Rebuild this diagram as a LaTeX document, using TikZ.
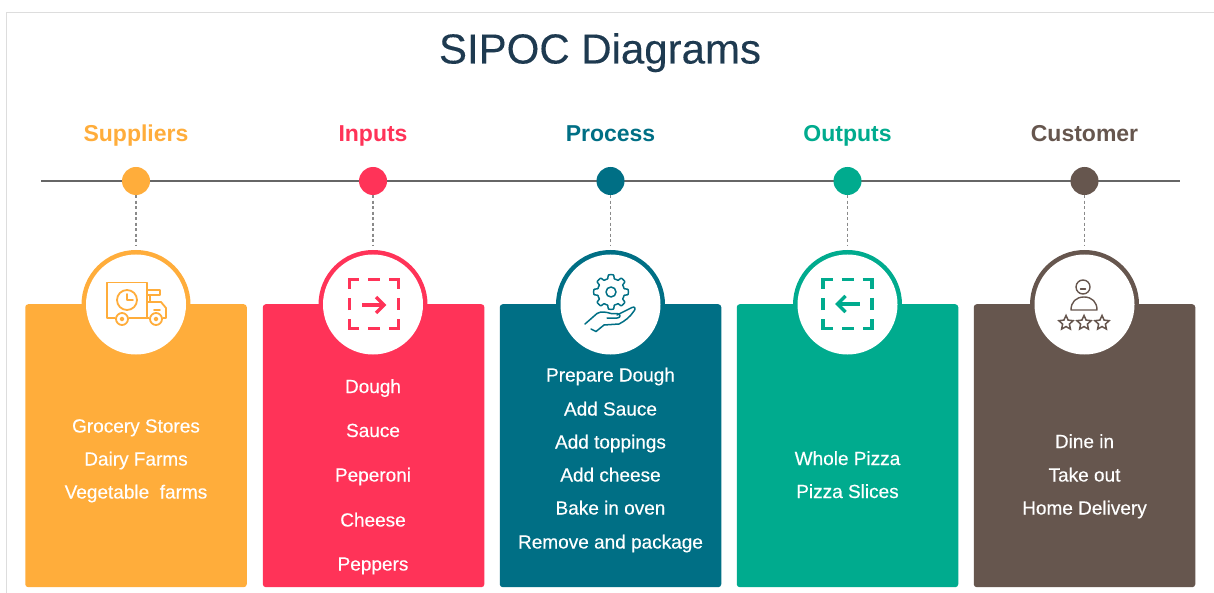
\documentclass[tikz,border=0pt]{standalone}
\usepackage{fontspec}
\setmainfont{Liberation Sans}
\newfontfamily\bodyfont[FakeBold=0.35]{Liberation Sans}
\newfontfamily\titlefont[FakeBold=0.2]{Liberation Sans}
\usetikzlibrary{shapes.geometric,arrows.meta}
\definecolor{cOrange}{HTML}{FFAD3B}
\definecolor{cRed}{HTML}{FF3358}
\definecolor{cTeal}{HTML}{006F85}
\definecolor{cGreen}{HTML}{00AB8E}
\definecolor{cBrown}{HTML}{66564E}
\definecolor{cTitle}{HTML}{1E3A50}
\definecolor{cLine}{HTML}{666666}
\definecolor{cDrop}{HTML}{8A8A8A}
\definecolor{cFrame}{HTML}{DDDDDD}
\tikzset{
  card/.style={fill=#1,draw=none,rounded corners=3pt,minimum width=221.5pt,minimum height=283pt,inner sep=0pt,anchor=north},
  dot/.style={circle,fill=#1,draw=none,minimum size=28pt,inner sep=0pt},
  ring/.style={circle,fill=#1,draw=none,minimum size=109pt,inner sep=0pt},
  hole/.style={circle,fill=white,draw=none,minimum size=100pt,inner sep=0pt},
  head/.style={font=\fontsize{23}{25}\selectfont\bfseries,text=#1,anchor=base,inner sep=0pt},
  body/.style={font=\bodyfont\fontsize{19}{22}\selectfont,text=white,anchor=base,inner sep=0pt},
  spine/.style={draw=cLine,line width=1.6pt},
  drop/.style={draw=cDrop,line width=1.2pt,dash pattern=on 3pt off 2.5pt},
  icon/.style={draw=#1,line width=1.8pt,line join=round,line cap=round},
  dashbox/.style={draw=#1,line width=3.4pt},
  starmark/.style={star,star points=5,star point ratio=2.1,draw=cBrown,line width=1.5pt,minimum size=15pt,inner sep=0pt},
}
\newcommand{\dashsquare}[1]{%
  \draw[dashbox=#1] (-24.5,-15) -- (-24.5,-24.5) -- (-15,-24.5);
  \draw[dashbox=#1] (-6,-24.5) -- (6,-24.5);
  \draw[dashbox=#1] (15,-24.5) -- (24.5,-24.5) -- (24.5,-15);
  \draw[dashbox=#1] (24.5,-6) -- (24.5,6);
  \draw[dashbox=#1] (24.5,15) -- (24.5,24.5) -- (15,24.5);
  \draw[dashbox=#1] (6,24.5) -- (-6,24.5);
  \draw[dashbox=#1] (-15,24.5) -- (-24.5,24.5) -- (-24.5,15);
  \draw[dashbox=#1] (-24.5,6) -- (-24.5,-6);
}
\begin{document}
\begin{tikzpicture}[x=1pt,y=-1pt]
\useasboundingbox (0,0) rectangle (1214,593);
\fill[white] (0,0) rectangle (1214,593);
% page frame
\coordinate (fa) at (6.5,593);
\coordinate (fb) at (6.5,12.5);
\coordinate (fc) at (1214,12.5);
\draw[cFrame,line width=1pt] (fa) -- (fb) -- (fc);
% title
\node[font=\titlefont\fontsize{42}{45}\selectfont,text=cTitle,anchor=base,inner sep=0pt] (title) at (600,63.5) {SIPOC Diagrams};
% spine
\coordinate (spineL) at (41,181);
\coordinate (spineR) at (1180,181);
\draw[spine] (spineL) -- (spineR);
% columns
\foreach \n/\x/\cx/\c/\t in {s/136/136/cOrange/Suppliers,i/373/373.6/cRed/Inputs,p/610.5/610.5/cTeal/Process,o/847.5/847.5/cGreen/Outputs,k/1084.5/1084.5/cBrown/Customer}{
  \node[ring=\c] (ring\n) at (\x,304.5) {};
  \node[card=\c] (card\n) at (\cx,304) {};
  \node[hole] (hole\n) at (\x,304.5) {};
  \node[dot=\c] (dot\n) at (\x,181) {};
  \node[head=\c] (head\n) at (\x,141.5) {\t};
  \coordinate (end\n) at (\x,245);
  \draw[drop] (dot\n) -- (end\n);
}
% suppliers text
\node[body] (s1) at (136,432.5) {Grocery Stores};
\node[body] (s2) at (136,465.5) {Dairy Farms};
\node[body] (s3) at (136,498.5) {Vegetable\ \ farms};
% inputs text
\node[body] (i1) at (373,393) {Dough};
\node[body] (i2) at (373,437) {Sauce};
\node[body] (i3) at (373,481.5) {Peperoni};
\node[body] (i4) at (373,526.5) {Cheese};
\node[body] (i5) at (373,570.5) {Peppers};
% process text
\node[body] (p1) at (610.5,381.5) {Prepare Dough};
\node[body] (p2) at (610.5,415.5) {Add Sauce};
\node[body] (p3) at (610.5,448.5) {Add toppings};
\node[body] (p4) at (610.5,481.5) {Add cheese};
\node[body] (p5) at (610.5,514.5) {Bake in oven};
\node[body] (p6) at (610.5,548.5) {Remove and package};
% outputs text
\node[body] (o1) at (847.5,465) {Whole Pizza};
\node[body] (o2) at (847.5,498) {Pizza Slices};
% customer text
\node[body] (k1) at (1084.5,448) {Dine in};
\node[body] (k2) at (1084.5,481.5) {Take out};
\node[body] (k3) at (1084.5,514.5) {Home Delivery};
% truck icon
\draw[icon=cOrange] (115,318) -- (107,318) -- (107,282.5) -- (147,282.5) -- (147,318) -- (149,318);
\draw[icon=cOrange] (129,318) -- (147,318);
\draw[icon=cOrange] (127,300) circle[radius=10pt];
\draw[icon=cOrange] (127,294) -- (127,300) -- (133,300);
\draw[icon=cOrange] (147,290) -- (160,290) -- (160,295) -- (147,295);
\draw[icon=cOrange] (147,302) -- (161,302) -- (166,308) -- (166,318) -- (163,318);
\draw[icon=cOrange] (150,295) -- (150,302);
\draw[icon=cOrange] (154,310) -- (160,310);
\draw[icon=cOrange] (122,319) circle[radius=6pt];
\draw[icon=cOrange] (122,319) circle[radius=1.6pt];
\draw[icon=cOrange] (156,319) circle[radius=6pt];
\draw[icon=cOrange] (156,319) circle[radius=1.6pt];
% inputs icon
\begin{scope}[shift={(374,304)}]
  \dashsquare{cRed}
  \draw[draw=cRed,line width=3.4pt] (-12,1) -- (9,1);
  \draw[draw=cRed,line width=3.4pt] (2,-7) -- (10,1) -- (2,9);
\end{scope}
% gear and hand icon
\begin{scope}[shift={(611,292)}]
  \draw[icon=cTeal,line width=1.5pt] plot[samples=193,domain=0:360,variable=\a] (\a:{13.5+3.8*max(0,min(1,0.5+1.4*cos(8*\a)))}) -- cycle;
  \draw[icon=cTeal,line width=1.5pt] (0,0) circle[radius=5pt];
\end{scope}
\draw[icon=cTeal,line width=1.5pt] (585,324) -- (597,313.5) .. controls (601,311) and (606,312) .. (611,313.5) -- (617,313.5) .. controls (621,314) and (621,318) .. (617,318) -- (607,318);
\draw[icon=cTeal,line width=1.5pt] (617,315) -- (632,307.5) .. controls (635,306) and (636,309) .. (634,311) .. controls (630,317) and (625,321) .. (619,324) -- (604,325) -- (596,331.5);
\draw[icon=cTeal,line width=1.5pt] (591,329) -- (596,331.5);
% outputs icon
\begin{scope}[shift={(847.5,304)}]
  \dashsquare{cGreen}
  \draw[draw=cGreen,line width=3.4pt] (12,0) -- (-9,0);
  \draw[draw=cGreen,line width=3.4pt] (-2,-8) -- (-10,0) -- (-2,8);
\end{scope}
% customer icon
\draw[icon=cBrown,line width=1.4pt] (1083,287) circle[radius=7pt];
\draw[icon=cBrown,line width=1.4pt] (1080.5,289) -- (1085.5,289);
\draw[icon=cBrown,line width=1.4pt] (1071,310) .. controls (1071,302) and (1076,297) .. (1084,297) .. controls (1092,297) and (1097,302) .. (1097,310) -- cycle;
\node[starmark] (star1) at (1066,323) {};
\node[starmark] (star2) at (1084,323) {};
\node[starmark] (star3) at (1102,323) {};
\end{tikzpicture}
\end{document}
